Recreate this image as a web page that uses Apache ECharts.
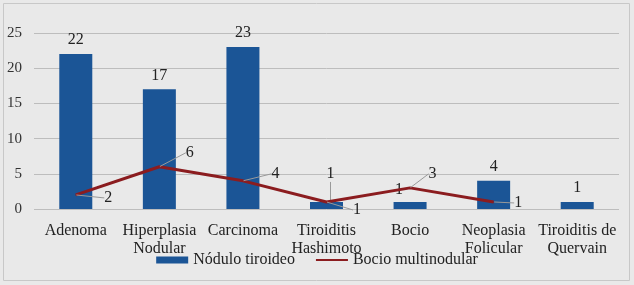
<!DOCTYPE html>
<html><head><meta charset="utf-8">
<script src="https://cdn.jsdelivr.net/npm/echarts@6/dist/echarts.min.js"></script>
<style>html,body{margin:0;padding:0;background:#fff}#c{width:634px;height:285px}</style>
</head><body><div id="c"></div>
<script>
const categories = ['Adenoma','Hiperplasia\nNodular','Carcinoma','Tiroiditis\nHashimoto','Bocio','Neoplasia\nFolicular','Tiroiditis de\nQuervain'];
const nodulo = [22,17,23,1,1,4,1];
const bocio = [2,6,4,1,3,1,null];
const yTicks = [0,5,10,15,20,25];

const lineLabelOffsets = [[28,3],[26,-14],[28,-7],[26,8],[18,-14],[20,1],[0,0]];
const barLabelOffsets = [[0,0],[0,0],[0,0],[4,-14],[-11,2],[0,0],[0,0]];
const barLabelLines = [false,false,false,true,false,false,false];

const chart = echarts.init(document.getElementById('c'));
const font = '"Liberation Serif", "DejaVu Serif", serif';
chart.setOption({
  backgroundColor: '#e9e9e9',
  textStyle: {fontFamily: font},
  animation: false,
  graphic: [{type:'rect', shape:{x:3.5,y:3.5,width:626,height:277}, style:{fill:'none', stroke:'#c8c8c8', lineWidth:1}}],
  grid: {left: 34, right: 15, top: 33, bottom: 76},
  legend: {
    bottom: 12, left: 'center', itemGap: 20, itemWidth: 32, itemHeight: 7,
    textStyle: {fontFamily: font, fontSize: 16, color: '#222'},
    data: [{name:'Nódulo tiroideo', icon:'rect'}, {name:'Bocio multinodular', itemStyle:{opacity:0}}]
  },
  xAxis: {
    type: 'category', data: categories,
    axisLine: {show: false}, axisTick: {show: false},
    axisLabel: {fontFamily: font, fontSize: 16, color: '#222', lineHeight: 18, margin: 13, interval: 0}
  },
  yAxis: {
    type: 'value', min: 0, max: 25, interval: 5,
    axisLabel: {fontFamily: font, fontSize: 15, color: '#333', margin: 12, formatter: v => yTicks.includes(v) ? String(v) : ''},
    splitLine: {lineStyle: {color: '#bdbdbd', width: 1}},
    axisLine: {show: false}, axisTick: {show: false}
  },
  series: [
    {
      name: 'Nódulo tiroideo', type: 'bar', barWidth: 33, itemStyle: {color: '#1b5596'},
      data: nodulo.map((v,i) => ({value: v, labelLine: {show: barLabelLines[i], lineStyle: {color: '#999', width: 1}}})),
      label: {show: true, position: 'top', distance: 6, fontFamily: font, fontSize: 16, color: '#222'},
      labelLayout: function(p){ const o = barLabelOffsets[p.dataIndex]; return {dx: o[0], dy: o[1]}; },
      z: 2
    },
    {
      name: 'Bocio multinodular', type: 'line', symbol: 'circle', symbolSize: 1, showSymbol: true,
      lineStyle: {color: '#8b1c1f', width: 3}, itemStyle: {color: '#8b1c1f'},
      data: bocio.map((v,i) => ({value: v})),
      label: {show: true, position: 'right', distance: 0, fontFamily: font, fontSize: 16, color: '#222'},
      labelLayout: function(p){ const o = lineLabelOffsets[p.dataIndex]; return {dx: o[0], dy: o[1]}; },
      labelLine: {show: true, lineStyle: {color: '#999', width: 1}},
      z: 3
    }
  ]
});
</script></body></html>
